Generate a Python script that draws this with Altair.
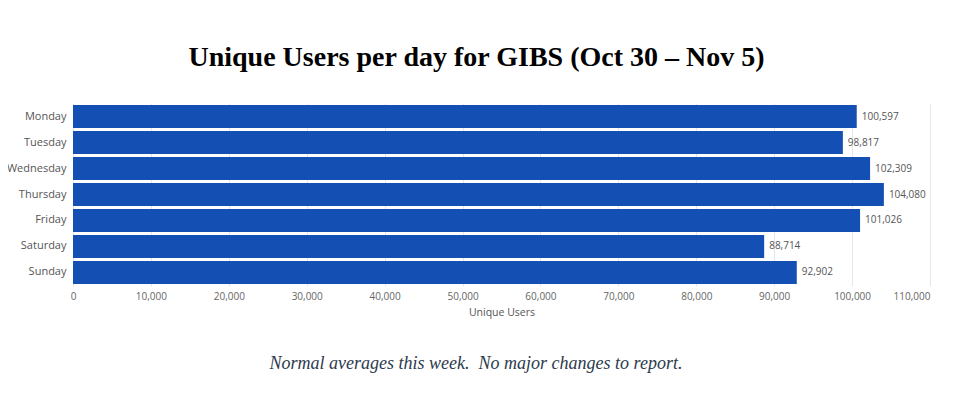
import altair as alt
import pandas as pd

days = ["Monday", "Tuesday", "Wednesday", "Thursday", "Friday", "Saturday", "Sunday"]
users = [100597, 98817, 102309, 104080, 101026, 88714, 92902]
x_ticks = [0, 10000, 20000, 30000, 40000, 50000, 60000, 70000, 80000, 90000, 100000, 110000]
title_text = "Unique Users per day for GIBS (Oct 30 \u2013 Nov 5)"
caption_text = "Normal averages this week.\u00a0 No major changes to report."

df = pd.DataFrame({"day": days, "users": users})

FONT = "Open Sans"

x_enc = alt.X(
    "users:Q",
    scale=alt.Scale(domain=[0, 110000], nice=False, zero=True),
    axis=alt.Axis(
        values=x_ticks, format=",d", title="Unique Users", domain=False, ticks=False,
        grid=True, gridColor="#e6e6e6", labelFont=FONT, labelFontSize=10,
        labelColor="#666666", labelPadding=5, labelFlush=False,
        labelAlign=alt.expr("datum.value == 110000 ? 'right' : 'center'"),
        labelOverlap=False,
        titleFont=FONT, titleFontSize=10.5, titleFontWeight="normal",
        titleColor="#555555", titlePadding=6,
    ),
)
y_enc = alt.Y(
    "day:N", sort=days,
    scale=alt.Scale(paddingInner=0.12, paddingOuter=0.08),
    axis=alt.Axis(
        title=None, domain=False, ticks=False, grid=False, labelFont=FONT,
        labelFontSize=11, labelColor="#555555", labelPadding=7,
    ),
)

base = alt.Chart(df)
bars = base.mark_bar(color="#1450B4").encode(x=x_enc, y=y_enc)
labels = base.mark_text(align="left", baseline="middle", dx=5, font=FONT,
                        fontSize=10, color="#555555").encode(
    x="users:Q", y=alt.Y("day:N", sort=days),
    text=alt.Text("users:Q", format=",d"),
)
caption = alt.Chart(pd.DataFrame({"t": [caption_text]})).mark_text(
    align="center", baseline="middle", font="Liberation Serif", fontSize=18,
    fontStyle="italic", color="#2c3b4d",
).encode(text="t:N", x=alt.value(403), y=alt.value(261))

chart = alt.layer(bars, labels, caption).properties(
    width=857, height=183,
    autosize=alt.AutoSizeParams(type="none"),
    padding={"left": 65, "top": 95, "right": 17, "bottom": 112},
    title=alt.TitleParams(
        text=title_text, font="Liberation Serif", fontSize=28, fontWeight="bold",
        color="#000000", anchor="middle", dx=-25, offset=31,
    ),
).configure_view(stroke=None)

chart.save("out.html", embed_options={"renderer": "svg", "actions": False})
